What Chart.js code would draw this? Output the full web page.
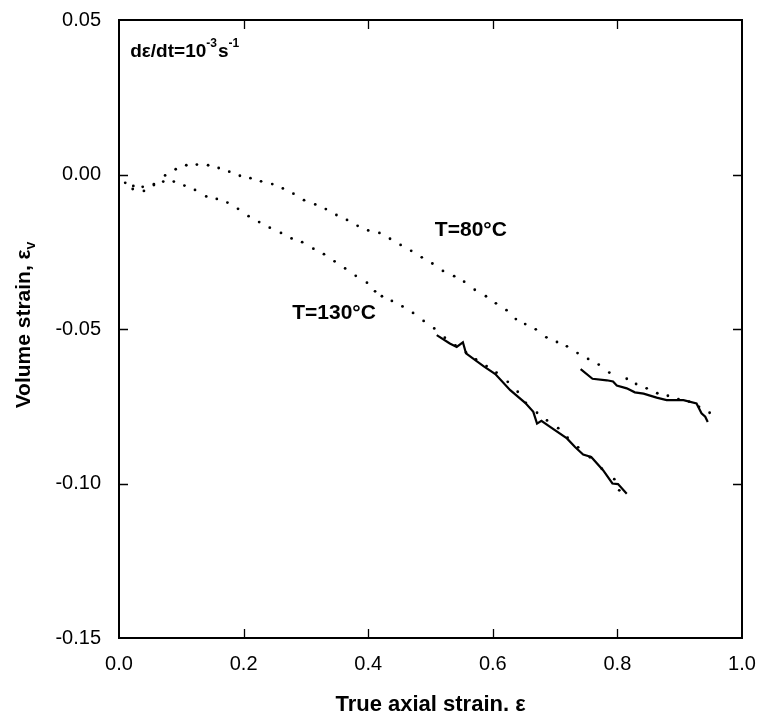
<!DOCTYPE html>
<html>
<head>
<meta charset="utf-8">
<script src="https://cdn.jsdelivr.net/npm/chart.js@4.4.1/dist/chart.umd.min.js"></script>
<style>
  html, body { margin: 0; padding: 0; background: #fff; }
  #wrap { width: 758px; height: 722px; }
</style>
</head>
<body>
<div id="wrap"><canvas id="chart" width="758" height="722"></canvas></div>
<script>
// tick labels
const xTickValues = [0, 0.2, 0.4, 0.6, 0.8, 1.0];
const yTickValues = [0.05, 0.0, -0.05, -0.10, -0.15];

// T=80°C, dotted curve
const dot80X = [0.010, 0.022, 0.040, 0.056, 0.074, 0.091, 0.108, 0.125, 0.143, 0.160, 0.177, 0.194, 0.211, 0.228, 0.246, 0.263, 0.280, 0.297, 0.315, 0.332, 0.349, 0.366, 0.383, 0.400, 0.418, 0.435, 0.452, 0.469, 0.486, 0.503, 0.520, 0.538, 0.554, 0.571, 0.589, 0.605, 0.622, 0.637, 0.652, 0.669, 0.686, 0.703, 0.719, 0.736, 0.753, 0.770, 0.787, 0.815, 0.830, 0.847, 0.864, 0.881, 0.898, 0.915, 0.931, 0.948];
const dot80Y = [-0.0027, -0.0047, -0.0053, -0.0031, -0.0003, 0.0017, 0.0030, 0.0032, 0.0030, 0.0021, 0.0009, -0.0004, -0.0012, -0.0022, -0.0031, -0.0045, -0.0062, -0.0083, -0.0097, -0.0112, -0.0131, -0.0147, -0.0166, -0.0181, -0.0189, -0.0208, -0.0228, -0.0247, -0.0268, -0.0288, -0.0312, -0.0329, -0.0347, -0.0373, -0.0394, -0.0417, -0.0439, -0.0468, -0.0484, -0.0501, -0.0527, -0.0542, -0.0556, -0.0578, -0.0597, -0.0615, -0.0641, -0.0661, -0.0678, -0.0692, -0.0708, -0.0716, -0.0727, -0.0735, -0.0752, -0.0771];

// T=130°C, dotted curve
const dot130X = [0.023, 0.038, 0.056, 0.071, 0.088, 0.105, 0.122, 0.140, 0.157, 0.174, 0.191, 0.208, 0.225, 0.242, 0.260, 0.277, 0.294, 0.312, 0.329, 0.346, 0.363, 0.380, 0.398, 0.411, 0.422, 0.438, 0.455, 0.472, 0.489, 0.506, 0.523, 0.540, 0.557, 0.573, 0.590, 0.606, 0.624, 0.640, 0.653, 0.671, 0.687, 0.705, 0.720, 0.737, 0.756, 0.775, 0.795, 0.803];
const dot130Y = [-0.0037, -0.0040, -0.0034, -0.0023, -0.0023, -0.0036, -0.0050, -0.0071, -0.0079, -0.0091, -0.0111, -0.0135, -0.0154, -0.0172, -0.0189, -0.0207, -0.0219, -0.0240, -0.0258, -0.0281, -0.0304, -0.0328, -0.0350, -0.0378, -0.0394, -0.0409, -0.0427, -0.0448, -0.0474, -0.0498, -0.0528, -0.0553, -0.0576, -0.0598, -0.0620, -0.0641, -0.0671, -0.0703, -0.0739, -0.0771, -0.0796, -0.0821, -0.0852, -0.0883, -0.0915, -0.0952, -0.0986, -0.1022];

// T=80°C, solid curve
const line80X = [0.741, 0.760, 0.783, 0.793, 0.799, 0.815, 0.828, 0.842, 0.863, 0.879, 0.906, 0.927, 0.935, 0.941, 0.945];
const line80Y = [-0.0630, -0.0661, -0.0666, -0.0670, -0.0683, -0.0692, -0.0705, -0.0709, -0.0722, -0.0730, -0.0730, -0.0741, -0.0773, -0.0784, -0.0801];

// T=130°C, solid curve
const line130X = [0.510, 0.531, 0.542, 0.552, 0.557, 0.585, 0.604, 0.628, 0.652, 0.665, 0.671, 0.678, 0.692, 0.719, 0.732, 0.745, 0.758, 0.777, 0.792, 0.801, 0.815];
const line130Y = [-0.0520, -0.0547, -0.0558, -0.0543, -0.0579, -0.0620, -0.0646, -0.0698, -0.0739, -0.0768, -0.0806, -0.0797, -0.0817, -0.0854, -0.0882, -0.0906, -0.0914, -0.0957, -0.1000, -0.1002, -0.1033];

const FONT = "'Liberation Sans', Arial, Helvetica, sans-serif";

function pts(xs, ys) {
    return xs.map((x, i) => ({ x: x, y: ys[i] }));
}

const dotted = {
    showLine: false,
    pointRadius: 1.4,
    pointBackgroundColor: "#000",
    pointBorderWidth: 0,
};
const solid = {
    showLine: true,
    pointRadius: 0,
    borderColor: "#000",
    borderWidth: 2.2,
    tension: 0,
};

// frame, inward ticks, labels
const decorations = {
    id: "decorations",
    afterDraw(chart) {
        const ctx = chart.ctx;
        const a = chart.chartArea;
        const xs = chart.scales.x;
        const ys = chart.scales.y;
        ctx.save();
        ctx.strokeStyle = "#000";
        ctx.lineWidth = 2;
        ctx.strokeRect(a.left, a.top, a.right - a.left, a.bottom - a.top);

        ctx.lineWidth = 1.3;
        ctx.beginPath();
        xTickValues.slice(1, -1).forEach((v) => {
            const px = Math.round(xs.getPixelForValue(v)) + 0.5;
            ctx.moveTo(px, a.bottom); ctx.lineTo(px, a.bottom - 9);
            ctx.moveTo(px, a.top); ctx.lineTo(px, a.top + 9);
        });
        yTickValues.slice(1, -1).forEach((v) => {
            const py = Math.round(ys.getPixelForValue(v)) + 0.5;
            ctx.moveTo(a.left, py); ctx.lineTo(a.left + 9, py);
            ctx.moveTo(a.right, py); ctx.lineTo(a.right - 9, py);
        });
        ctx.stroke();

        ctx.fillStyle = "#000";
        ctx.textBaseline = "middle";
        ctx.textAlign = "left";

        // rate annotation with superscripts
        let x = xs.getPixelForValue(0.018);
        let y = ys.getPixelForValue(0.0398);
        const big = "bold 19px " + FONT;
        const small = "bold 12px " + FONT;
        const parts = [["d\u03b5/dt=10", big, 0], ["-3", small, -8], ["s", big, 0], ["-1", small, -8]];
        parts.forEach(([t, f, dy]) => {
            ctx.font = f;
            ctx.fillText(t, x, y + dy);
            x += ctx.measureText(t).width + (dy ? 1 : 0);
        });

        ctx.font = "bold 21px " + FONT;
        ctx.fillText("T=80\u00b0C", xs.getPixelForValue(0.507), ys.getPixelForValue(-0.0180));
        ctx.fillText("T=130\u00b0C", xs.getPixelForValue(0.278), ys.getPixelForValue(-0.0448));

        // y axis title with subscript v
        const cy = (a.top + a.bottom) / 2 - 4;
        ctx.translate(24, cy);
        ctx.rotate(-Math.PI / 2);
        ctx.font = "bold 21px " + FONT;
        const main = "Volume strain, \u03b5";
        const w1 = ctx.measureText(main).width;
        ctx.font = "bold 14px " + FONT;
        const w2 = ctx.measureText("v").width;
        const start = -(w1 + w2) / 2;
        ctx.font = "bold 21px " + FONT;
        ctx.fillText(main, start, 0);
        ctx.font = "bold 14px " + FONT;
        ctx.fillText("v", start + w1, 7);
        ctx.restore();
    },
};

const ctx = document.getElementById("chart").getContext("2d");
new Chart(ctx, {
    type: "scatter",
    data: {
        datasets: [
            Object.assign({ label: "80 dotted", data: pts(dot80X, dot80Y) }, dotted),
            Object.assign({ label: "130 dotted", data: pts(dot130X, dot130Y) }, dotted),
            Object.assign({ label: "80 solid", data: pts(line80X, line80Y) }, solid),
            Object.assign({ label: "130 solid", data: pts(line130X, line130Y) }, solid),
        ],
    },
    options: {
        responsive: false,
        devicePixelRatio: 1,
        animation: false,
        layout: { padding: { left: 0, top: 20, right: 16, bottom: 0 } },
        plugins: { legend: { display: false }, tooltip: { enabled: false } },
        scales: {
            x: {
                type: "linear",
                min: 0,
                max: 1,
                grid: { display: false },
                border: { display: false },
                afterBuildTicks: (s) => { s.ticks = xTickValues.map((v) => ({ value: v })); },
                afterFit: (s) => { s.height = 84; s.paddingLeft = 0; s.paddingRight = 0; },
                ticks: {
                    color: "#000",
                    padding: 6,
                    font: { family: FONT, size: 20 },
                    callback: (v) => Number(v).toFixed(1),
                },
                title: {
                    display: true,
                    text: "True axial strain. \u03b5",
                    color: "#000",
                    font: { family: FONT, size: 22, weight: "bold" },
                    padding: { top: 0, bottom: 4 },
                },
            },
            y: {
                type: "linear",
                min: -0.15,
                max: 0.05,
                grid: { display: false },
                border: { display: false },
                afterBuildTicks: (s) => { s.ticks = yTickValues.map((v) => ({ value: v })); },
                afterFit: (s) => { s.width = 119; s.paddingTop = 0; s.paddingBottom = 0; },
                ticks: {
                    color: "#000",
                    padding: 10,
                    font: { family: FONT, size: 20 },
                    callback: (v) => (Math.abs(v) < 1e-9 ? 0 : v).toFixed(2),
                },
            },
        },
    },
    plugins: [decorations],
});
</script>
</body>
</html>
